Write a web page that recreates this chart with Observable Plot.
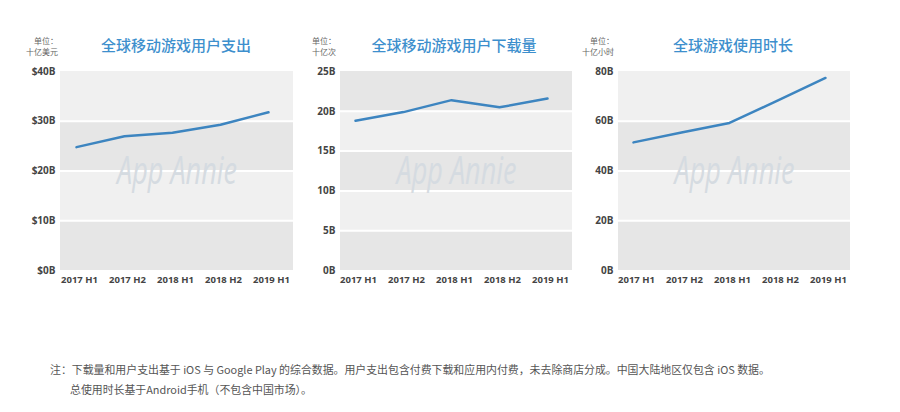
<!DOCTYPE html>
<html>
<head>
<meta charset="utf-8">
<script src="https://cdn.jsdelivr.net/npm/d3@7"></script>
<script src="https://cdn.jsdelivr.net/npm/@observablehq/plot@0.6"></script>
<style>
  body { margin: 0; background: #fff; width: 900px; height: 412px; overflow: hidden; position: relative; font-family: "Noto Sans CJK SC", "Open Sans", sans-serif; }
  .panel { position: absolute; top: 50px; }
  .title { position: absolute; top: 34px; font-size: 15px; font-weight: 500; color: #3d8fcd; white-space: nowrap; transform: translateX(-50%); }
  .unit { position: absolute; font-size: 8px; color: #666; white-space: nowrap; text-align: right; line-height: 11px; }
  .note { position: absolute; font-size: 10.9px; color: #555; white-space: nowrap; }
</style>
</head>
<body>
<script>
const periods = ["2017 H1", "2017 H2", "2018 H1", "2018 H2", "2019 H1"];
const spending = [24.8, 27.0, 27.7, 29.3, 31.8];
const downloads = [18.8, 19.9, 21.4, 20.5, 21.6];
const hours = [51.5, 55.5, 59.3, 68.3, 77.4];

const spendingTicks = [0, 10, 20, 30, 40];
const downloadTicks = [0, 5, 10, 15, 20, 25];
const hourTicks = [0, 20, 40, 60, 80];

const spendingTickLabels = ["$0B", "$10B", "$20B", "$30B", "$40B"];
const downloadTickLabels = ["0B", "5B", "10B", "15B", "20B", "25B"];
const hourTickLabels = ["0B", "20B", "40B", "60B", "80B"];

const titles = ["全球移动游戏用户支出", "全球移动游戏用户下载量", "全球游戏使用时长"];
const units = ["十亿美元", "十亿次", "十亿小时"];
const unitPrefix = "单位：";
const watermark = "App Annie";
const notes = [
  "注：下载量和用户支出基于 iOS 与 Google Play 的综合数据。用户支出包含付费下载和应用内付费，未去除商店分成。中国大陆地区仅包含 iOS 数据。",
  "总使用时长基于Android手机（不包含中国市场）。"
];

const root = document.body;

function panel({values, ticks, tickLabels, left, marginLeft, marginRight, title, titleX, unit, unitRight}) {
  const data = periods.map((p, i) => ({period: p, value: values[i]}));
  const bands = ticks.slice(0, -1).map((t, i) => ({y1: t, y2: ticks[i + 1], fill: i % 2 === 0 ? "#e6e6e6" : "#f0f0f0"}));
  const inner = ticks.slice(1, -1);
  const chart = Plot.plot({
    width: 300,
    height: 245,
    marginLeft, marginRight,
    marginTop: 21,
    marginBottom: 25,
    style: {fontFamily: "'Open Sans', sans-serif", background: "transparent"},
    x: {type: "point", domain: periods, padding: 0.38, align: 0.38, label: null},
    y: {domain: [ticks[0], ticks[ticks.length - 1]], label: null},
    marks: [
      Plot.rect(bands, {y1: "y1", y2: "y2", fill: "fill"}),
      Plot.ruleY(inner, {stroke: "#fff", strokeWidth: 2}),
      Plot.text([watermark], {frameAnchor: "middle", dy: 1, fontSize: 38, fontStyle: "italic", fontWeight: 400, fill: "#d5dbe1", fontFamily: "'Open Sans', sans-serif"}),
      Plot.line(data, {x: "period", y: "value", stroke: "#3d85c0", strokeWidth: 2.5}),
      Plot.axisY({ticks, tickFormat: (d) => tickLabels[ticks.indexOf(d)], tickSize: 0, tickPadding: 5, fontSize: 10, fontWeight: 700, fill: "#444"}),
      Plot.axisX({tickSize: 0, tickPadding: 6, dx: 3, fontSize: 9.5, fontWeight: 700, fill: "#444"})
    ]
  });
  chart.querySelectorAll("text").forEach(el => {
    if (el.textContent === watermark) {
      el.setAttribute("textLength", "120");
      el.setAttribute("lengthAdjust", "spacingAndGlyphs");
    }
  });
  const wrap = document.createElement("div");
  wrap.className = "panel";
  wrap.style.left = left + "px";
  wrap.appendChild(chart);
  root.appendChild(wrap);

  const t = document.createElement("div");
  t.className = "title";
  t.style.left = titleX + "px";
  t.textContent = title;
  root.appendChild(t);

  const u = document.createElement("div");
  u.className = "unit";
  u.style.right = (900 - unitRight) + "px";
  u.style.top = "35px";
  u.innerHTML = unitPrefix + "<br>" + unit;
  root.appendChild(u);
}

panel({values: spending, ticks: spendingTicks, tickLabels: spendingTickLabels, left: 0, marginLeft: 60, marginRight: 7, title: titles[0], titleX: 176, unit: units[0], unitRight: 58});
panel({values: downloads, ticks: downloadTicks, tickLabels: downloadTickLabels, left: 300, marginLeft: 40, marginRight: 28, title: titles[1], titleX: 454, unit: units[1], unitRight: 336});
panel({values: hours, ticks: hourTicks, tickLabels: hourTickLabels, left: 570, marginLeft: 48, marginRight: 20, title: titles[2], titleX: 733, unit: units[2], unitRight: 614});

const n1 = document.createElement("div");
n1.className = "note"; n1.style.left = "50px"; n1.style.top = "361px"; n1.textContent = notes[0];
root.appendChild(n1);
const n2 = document.createElement("div");
n2.className = "note"; n2.style.left = "70px"; n2.style.top = "381px"; n2.textContent = notes[1];
root.appendChild(n2);
</script>
</body>
</html>
